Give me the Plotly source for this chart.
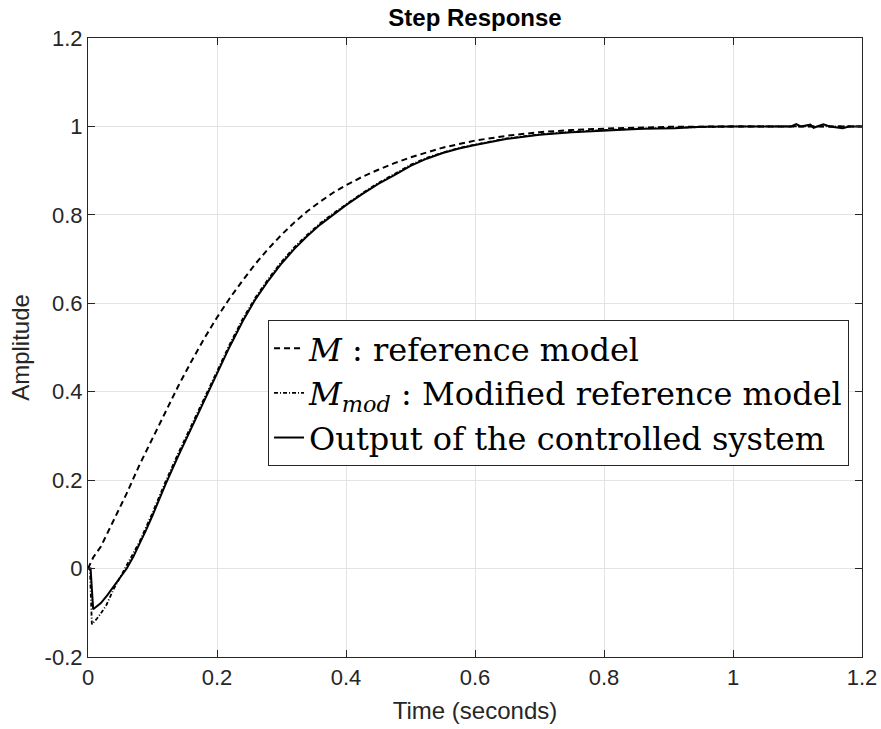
import plotly.graph_objects as go

# ---- data ----
t_M = [0, 0.008, 0.02, 0.04, 0.06, 0.08, 0.1, 0.12, 0.14, 0.16, 0.18, 0.2, 0.22, 0.24, 0.26,
       0.28, 0.3, 0.32, 0.34, 0.36, 0.38, 0.4, 0.425, 0.45, 0.475, 0.5, 0.55, 0.6, 0.65, 0.7,
       0.75, 0.8, 0.9, 1.0, 1.2]
M = [0, 0.025, 0.05, 0.11, 0.17, 0.235, 0.295, 0.355, 0.413, 0.468, 0.52, 0.568, 0.612, 0.652,
     0.69, 0.724, 0.755, 0.783, 0.808, 0.83, 0.85, 0.867, 0.886, 0.902, 0.917, 0.93, 0.952,
     0.968, 0.979, 0.987, 0.992, 0.995, 0.999, 1.0, 1.0]

t_Mod = [0, 0.003, 0.006, 0.01, 0.014, 0.02, 0.028, 0.04, 0.05, 0.06, 0.08, 0.1, 0.12, 0.14,
         0.16, 0.18, 0.2, 0.22, 0.24, 0.26, 0.28, 0.3, 0.32, 0.34, 0.36, 0.38, 0.4, 0.425, 0.45,
         0.475, 0.5, 0.525, 0.55, 0.575, 0.6, 0.65, 0.7, 0.75, 0.8, 0.85, 0.9, 0.95, 1.0, 1.2]
Mod = [0, 0, -0.126, -0.12, -0.113, -0.101, -0.084, -0.046, -0.02, 0.006, 0.061, 0.126, 0.196,
       0.261, 0.324, 0.386, 0.446, 0.508, 0.565, 0.614, 0.656, 0.694, 0.727, 0.755, 0.781,
       0.803, 0.824, 0.849, 0.872, 0.892, 0.913, 0.929, 0.941, 0.951, 0.959, 0.973, 0.982,
       0.988, 0.992, 0.995, 0.997, 0.999, 1.0, 1.0]

t_Y = [0, 0.004, 0.008, 0.012, 0.02, 0.03, 0.04, 0.05, 0.06, 0.07, 0.08, 0.09, 0.1, 0.12,
       0.14, 0.16, 0.18, 0.2, 0.22, 0.24, 0.26, 0.28, 0.3, 0.32, 0.34, 0.36, 0.38, 0.4, 0.425,
       0.45, 0.475, 0.5, 0.525, 0.55, 0.575, 0.6, 0.65, 0.7, 0.75, 0.8, 0.83, 0.86, 0.91,
       0.95, 1.0, 1.04, 1.09, 1.098, 1.105, 1.12, 1.125, 1.14, 1.15, 1.17, 1.18, 1.2]
Y = [0, 0, -0.092, -0.088, -0.078, -0.06, -0.04, -0.02, 0.0, 0.026, 0.055, 0.087, 0.12, 0.19,
     0.255, 0.318, 0.38, 0.44, 0.503, 0.56, 0.61, 0.652, 0.69, 0.723, 0.752, 0.778, 0.801,
     0.822, 0.847, 0.87, 0.89, 0.911, 0.927, 0.94, 0.95, 0.958, 0.972, 0.981, 0.987, 0.991,
     0.994, 0.995, 0.996, 0.999, 1.0, 1.0, 1.0, 1.005, 1.0, 1.004, 0.997, 1.005, 1.0, 0.996,
     1.0, 1.0]

x_ticks = [0, 0.2, 0.4, 0.6, 0.8, 1, 1.2]
x_labels = ["0", "0.2", "0.4", "0.6", "0.8", "1", "1.2"]
y_ticks = [-0.2, 0, 0.2, 0.4, 0.6, 0.8, 1, 1.2]
y_labels = ["-0.2", "0", "0.2", "0.4", "0.6", "0.8", "1", "1.2"]

names = ["<i>M</i> : reference model",
         "<i>M</i><sub><i>mod</i></sub> : Modified reference model",
         "Output of the controlled system"]

fig = go.Figure()
fig.add_trace(go.Scatter(x=t_M, y=M, mode="lines", name=names[0],
                         line=dict(color="black", width=2, dash="6px,4px")))
fig.add_trace(go.Scatter(x=t_Mod, y=Mod, mode="lines", name=names[1],
                         line=dict(color="black", width=1.8, dash="4px,2px,1px,2px")))
fig.add_trace(go.Scatter(x=t_Y, y=Y, mode="lines", name=names[2],
                         line=dict(color="black", width=2)))

axis_common = dict(
    showgrid=True, gridcolor="#e3e3e3", gridwidth=1,
    showline=True, linecolor="#262626", linewidth=1.2, mirror="ticks",
    ticks="inside", ticklen=7, tickcolor="#262626", tickwidth=1,
    tickfont=dict(family="Liberation Sans, Arial, sans-serif", size=22, color="#262626"),
    zeroline=False, automargin=False,
)

fig.update_layout(
    width=881, height=729,
    margin=dict(l=88, r=19, t=38, b=72),
    paper_bgcolor="white", plot_bgcolor="white",
    title=dict(text="<b>Step Response</b>", x=0.5, xref="paper", y=0.976, yref="container",
               xanchor="center", yanchor="middle",
               font=dict(family="Liberation Sans, Arial, sans-serif", size=24, color="black")),
    xaxis=dict(range=[0, 1.2], tickvals=x_ticks, ticktext=x_labels,
               title=dict(text="Time (seconds)", standoff=13,
                          font=dict(family="Liberation Sans, Arial, sans-serif", size=24, color="#262626")),
               **axis_common),
    yaxis=dict(range=[-0.2, 1.2], tickvals=y_ticks, ticktext=y_labels,
               title=dict(text="Amplitude", standoff=8,
                          font=dict(family="Liberation Sans, Arial, sans-serif", size=24, color="#262626")),
               **axis_common),
    legend=dict(x=0.2326, y=0.5444, xanchor="left", yanchor="top",
                bgcolor="white", bordercolor="#262626", borderwidth=1,
                font=dict(family="DejaVu Serif, serif", size=32, color="black"),
                itemwidth=30, tracegroupgap=0),
    showlegend=True,
)

fig.write_html("out.html")
